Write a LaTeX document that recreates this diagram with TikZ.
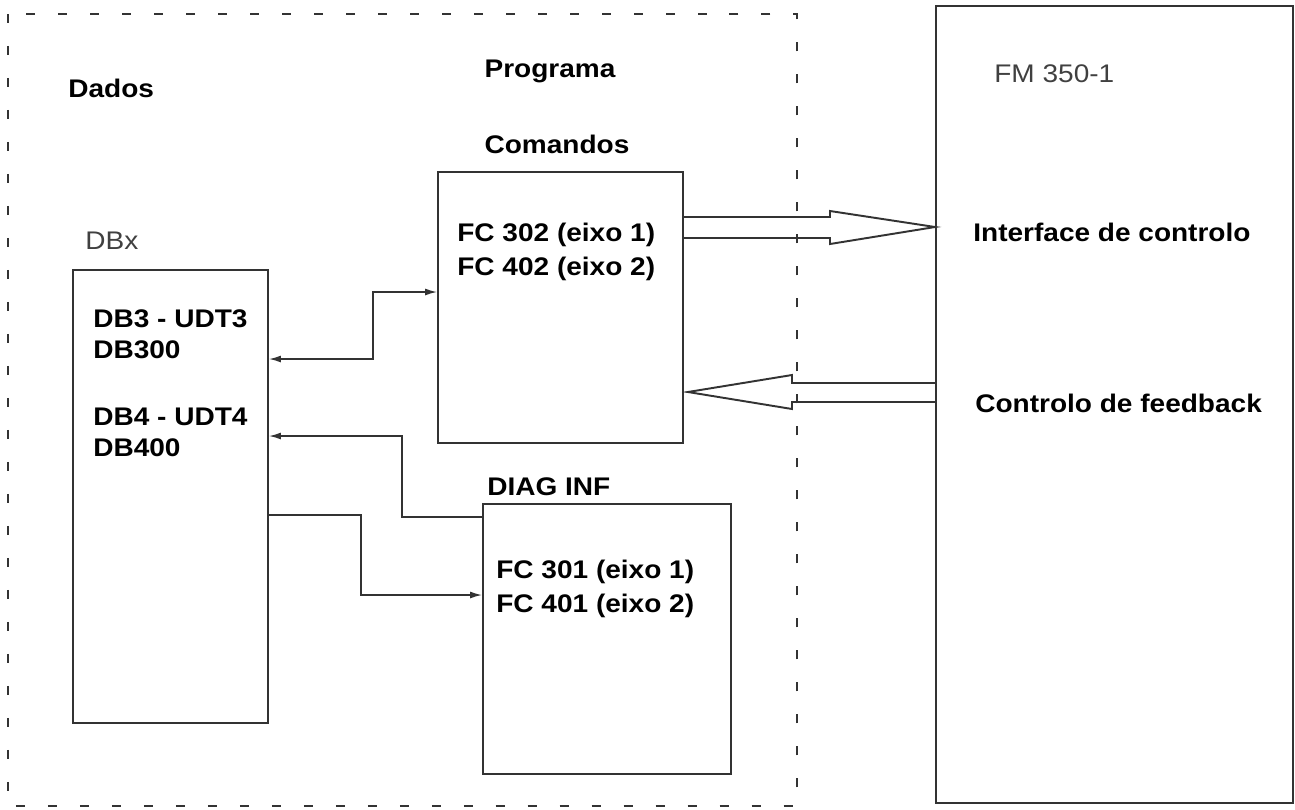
\documentclass[tikz,border=0pt]{standalone}
\usepackage{fontspec}
\newfontfamily\diagfont{Liberation Sans}[FakeStretch=1.1]
\usepackage{tikz}
\usetikzlibrary{arrows.meta,calc}
\definecolor{linegray}{HTML}{333333}
\definecolor{textgray}{HTML}{404040}
\tikzset{
    box/.style={draw=linegray, line width=1.1pt, minimum width=#1, inner sep=0pt},
    lbl/.style={font=\diagfont\bfseries\fontsize{14.5}{17}\selectfont, inner sep=0pt, anchor=base west},
    plain/.style={font=\diagfont\fontsize{14.5}{17}\selectfont, text=textgray, inner sep=0pt, anchor=base west},
    link/.style={draw=linegray, line width=0.85pt},
    tip/.style={-{Latex[length=2.4mm,width=1.4mm]}},
    hollow/.style={draw=linegray, line width=1.1pt, line join=miter}
}

\begin{document}
\begin{tikzpicture}[x=0.02cm, y=-0.02cm]
    \useasboundingbox (0,0) rectangle (1295,809);

    % 虚线框（程序区域）
    \draw[draw=linegray, line width=1.1pt, dash pattern=on 0.18cm off 0.46cm] (8,14) rectangle (797,806);

    % 方框
    \node[box=3.9cm, minimum height=9.06cm] (db) at (170.5,496.5) {};
    \node[box=4.9cm, minimum height=5.42cm] (cmd) at (560.5,307.5) {};
    \node[box=4.96cm, minimum height=5.4cm] (diag) at (607,639) {};
    \node[box=7.14cm, minimum height=15.94cm] (fm) at (1114.5,404.5) {};

    % 标题
    \node[lbl] (dados) at (68,97) {Dados};
    \node[lbl, anchor=base] (prog) at (550,77) {Programa};
    \node[lbl, anchor=base] (coms) at (557,153) {Comandos};
    \node[plain] (dbx) at (85,249) {DBx};
    \node[lbl] (diagt) at (487,495) {DIAG INF};
    \node[plain] (fmt) at (994,82) {FM 350-1};

    % 方框内文字
    \node[lbl] (dbA) at (93,327) {DB3 - UDT3};
    \node[lbl] (dbB) at (93,358) {DB300};
    \node[lbl] (dbC) at (93,425) {DB4 - UDT4};
    \node[lbl] (dbD) at (93,456) {DB400};
    \node[lbl] (fcA) at (457,241) {FC 302 (eixo 1)};
    \node[lbl] (fcB) at (457,275) {FC 402 (eixo 2)};
    \node[lbl] (fcC) at (496,578) {FC 301 (eixo 1)};
    \node[lbl] (fcD) at (496,612) {FC 401 (eixo 2)};
    \node[lbl] (ifc) at (973,241) {Interface de controlo};
    \node[lbl] (fbk) at (975,412) {Controlo de feedback};

    % 连接线
    \draw[link, {Latex[length=2.4mm,width=1.4mm]}-{Latex[length=2.4mm,width=1.4mm]}]
        (db.east |- 0,359) -- (373,359) |- (cmd.west |- 0,292);
    \draw[link, tip] (diag.west |- 0,517) -| (402,436) -- (db.east |- 0,436);
    \draw[link, tip] (db.east |- 0,515) -| (361,595) -- (diag.west |- 0,595);

    % 空心箭头
    \draw[hollow] (cmd.east |- 0,217) -- (830,217) -- (830,211) -- (fm.west |- 0,227)
        -- (830,244) -- (830,238) -- (cmd.east |- 0,238);
    \draw[hollow] (fm.west |- 0,383) -- (792,383) -- (792,375) -- ($(cmd.east |- 0,392)+(4,0)$)
        -- (792,409) -- (792,402) -- (fm.west |- 0,402);
\end{tikzpicture}
\end{document}
